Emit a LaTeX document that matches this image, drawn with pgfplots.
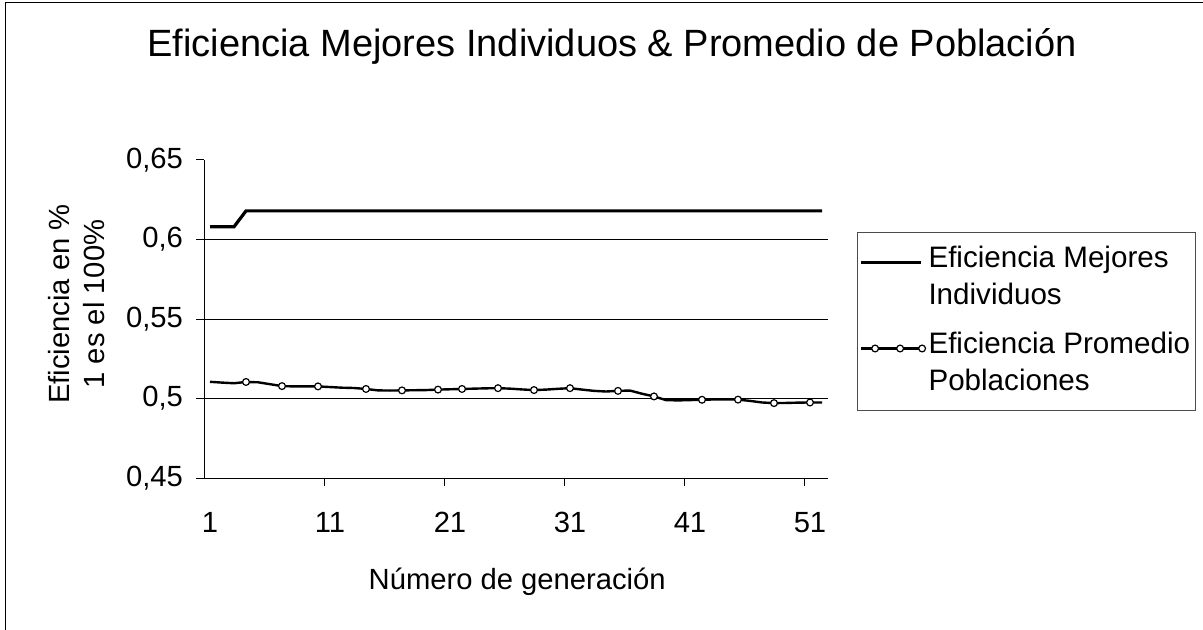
\documentclass[border=0pt]{standalone}
\usepackage{fontspec}
\setmainfont{Liberation Sans}
\usepackage{pgfplots}
\pgfplotsset{compat=1.18}

\newcommand\lblfont{\fontsize{14.6}{17.5}\selectfont}
\pgfplotsset{
  legA/.style={legend image code/.code={\draw[##1] (0pt,8pt) -- (30pt,8pt);}},
  legB/.style={legend image code/.code={\draw[##1, mark indices={2,3,4}] plot coordinates {(0pt,8pt) (7pt,8pt) (19.5pt,8pt) (30.5pt,8pt)};}},
}

\begin{document}
\begin{tikzpicture}
\path[use as bounding box] (0,0) rectangle (601.5pt,-315pt);
\draw[line width=0.5pt] (2.5pt,-315pt) -- (2.5pt,-1.5pt) -- (601.5pt,-1.5pt);
\begin{axis}[
  at={(102pt,-239pt)}, anchor=south west,
  width=312pt, height=159pt, scale only axis,
  xmin=0.5, xmax=52.5, ymin=0.45, ymax=0.65,
  axis x line*=bottom, axis y line*=left,
  axis line style={line width=0.5pt},
  tick style={black, line width=0.5pt},
  tick align=outside,
  xtick={10.5,20.5,30.5,40.5,50.5}, xticklabels={},
  major tick length=4pt,
  extra x ticks={1,11,21,31,41,51},
  extra x tick style={major tick length=0pt},
  ytick={0.45,0.5,0.55,0.6},
  extra y ticks={0.65},
  extra y tick style={grid=none},
  ymajorgrids,
  grid style={black, line width=0.5pt},
  /pgf/number format/use comma,
  /pgf/number format/assume math mode=true,
  tick label style={font=\lblfont},
  xticklabel style={anchor=base, yshift=-27pt},
  yticklabel style={xshift=-3pt},
  title={Eficiencia Mejores Individuos \& Promedio de Población},
  title style={at={(axis description cs:0.654,1.318)}, anchor=center, yshift=0pt, font=\fontsize{19}{22}\selectfont},
  xlabel={Número de generación},
  xlabel style={at={(axis description cs:0.502,-0.327)}, anchor=center, font=\lblfont},
  ylabel={Eficiencia en \%\\1 es el 100\%},
  ylabel style={at={(axis description cs:-0.205,0.547)}, anchor=center, align=center, font=\lblfont},
  legend style={at={(axis description cs:1.0465,0.7736)}, anchor=north west,
    draw=black!70, line width=0.5pt, font=\fontsize{14.8}{18.5}\selectfont,
    inner xsep=1pt, inner ysep=3pt, row sep=3pt,
    nodes={inner sep=1.5pt, text depth={}}},
  legend cell align=left,
]
\addplot[black, line width=1.6pt, legA]
coordinates {
(1,0.608) (2,0.608) (3,0.608) (4,0.618) (5,0.618) (6,0.618) (7,0.618) (8,0.618)
(9,0.618) (10,0.618) (11,0.618) (12,0.618) (13,0.618) (14,0.618) (15,0.618) (16,0.618)
(17,0.618) (18,0.618) (19,0.618) (20,0.618) (21,0.618) (22,0.618) (23,0.618) (24,0.618)
(25,0.618) (26,0.618) (27,0.618) (28,0.618) (29,0.618) (30,0.618) (31,0.618) (32,0.618)
(33,0.618) (34,0.618) (35,0.618) (36,0.618) (37,0.618) (38,0.618) (39,0.618) (40,0.618)
(41,0.618) (42,0.618) (43,0.618) (44,0.618) (45,0.618) (46,0.618) (47,0.618) (48,0.618)
(49,0.618) (50,0.618) (51,0.618) (52,0.618)
};
\addlegendentry{\begin{tabular}{@{}l@{}}Eficiencia Mejores\\Individuos\end{tabular}}
\addplot[black, line width=1.2pt,
  mark=*, mark size=1.7pt,
  mark options={fill=white, draw=black, line width=0.6pt, solid},
  mark indices={4,7,10,14,17,20,22,25,28,31,35,38,42,45,48,51},
  legB]
coordinates {
(1,0.5105) (2,0.5100) (3,0.5096) (4,0.5104) (5,0.5102) (6,0.5090) (7,0.5078) (8,0.5076)
(9,0.5076) (10,0.5076) (11,0.5072) (12,0.5068) (13,0.5066) (14,0.5060) (15,0.5051) (16,0.5050)
(17,0.5051) (18,0.5052) (19,0.5053) (20,0.5056) (21,0.5058) (22,0.5060) (23,0.5062) (24,0.5064)
(25,0.5065) (26,0.5062) (27,0.5057) (28,0.5053) (29,0.5056) (30,0.5061) (31,0.5065) (32,0.5056)
(33,0.5048) (34,0.5044) (35,0.5048) (36,0.5050) (37,0.5030) (38,0.5013) (39,0.4990) (40,0.4988)
(41,0.4990) (42,0.4992) (43,0.4994) (44,0.4995) (45,0.4993) (46,0.4985) (47,0.4975) (48,0.4971)
(49,0.4972) (50,0.4974) (51,0.4975) (52,0.4975)
};
\addlegendentry{\begin{tabular}{@{}l@{}}Eficiencia Promedio\\Poblaciones\end{tabular}}
\end{axis}
\end{tikzpicture}
\end{document}
